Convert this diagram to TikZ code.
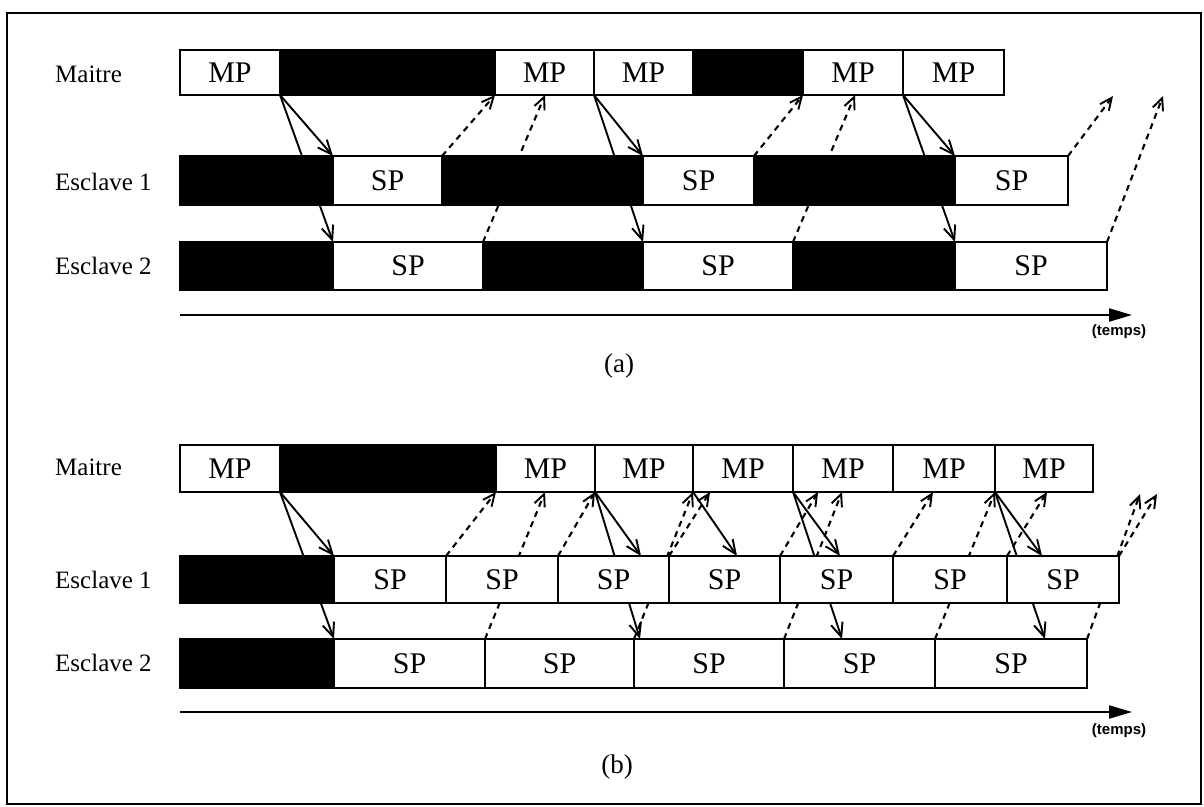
\documentclass[tikz,border=0pt]{standalone}
\usepackage{fontspec}
\setmainfont{Liberation Serif}
\newfontfamily\axisfont{Liberation Sans}
\usetikzlibrary{arrows.meta,calc}
\pgfdeclarelayer{bg}
\pgfsetlayers{bg,main}
\newcommand\cellbox[7]{\node[#1, minimum width={(#4-#3)*1pt}, minimum height={(#6-#5)*1pt}] (#2) at ({(#3+#4)/2},{(#5+#6)/2}) {#7};}
\begin{document}
\begin{tikzpicture}[x=1pt,y=-1pt,
  wbox/.style={draw, line width=2.2pt, fill=white, inner sep=0pt, outer sep=0pt, font=\fontsize{30}{30}\selectfont},
  bbox/.style={draw, line width=2.2pt, fill=black, inner sep=0pt, outer sep=0pt},
  lab/.style={anchor=west, inner sep=0pt, font=\fontsize{25}{25}\selectfont},
  sol/.style={line width=1.9pt, -{Straight Barb[length=14pt,width=12pt,line width=1.9pt]}},
  dsh/.style={line width=2.1pt, dash pattern=on 6pt off 5pt, -{Straight Barb[length=12pt,width=11pt,line width=1.9pt]}},
  axisline/.style={line width=2.2pt, -{Triangle[length=23pt,width=13pt]}},
  small/.style={inner sep=0pt, font=\axisfont\bfseries\fontsize{15}{15}\selectfont},
  captxt/.style={inner sep=0pt, font=\fontsize{27}{27}\selectfont},
]
\useasboundingbox (0,0) rectangle (1204,806);
\draw[line width=2pt] (7,13) rectangle (1201,804);

% ---------- (a) ----------
\node[lab] (la1) at (55,74) {Maitre};
\node[lab] (la2) at (55,182) {Esclave 1};
\node[lab] (la3) at (55,266) {Esclave 2};

\cellbox{wbox}{am1}{180}{280}{50}{95}{MP}
\cellbox{bbox}{am2}{280}{495}{50}{95}{}
\cellbox{wbox}{am3}{495}{594}{50}{95}{MP}
\cellbox{wbox}{am4}{594}{693}{50}{95}{MP}
\cellbox{bbox}{am5}{693}{803}{50}{95}{}
\cellbox{wbox}{am6}{803}{903}{50}{95}{MP}
\cellbox{wbox}{am7}{903}{1004}{50}{95}{MP}

\cellbox{bbox}{ae1a}{180}{333}{156}{205}{}
\cellbox{wbox}{ae1b}{333}{442}{156}{205}{SP}
\cellbox{bbox}{ae1c}{442}{643}{156}{205}{}
\cellbox{wbox}{ae1d}{643}{754}{156}{205}{SP}
\cellbox{bbox}{ae1e}{754}{955}{156}{205}{}
\cellbox{wbox}{ae1f}{955}{1068}{156}{205}{SP}

\cellbox{bbox}{ae2a}{180}{333}{242}{290}{}
\cellbox{wbox}{ae2b}{333}{483}{242}{290}{SP}
\cellbox{bbox}{ae2c}{483}{643}{242}{290}{}
\cellbox{wbox}{ae2d}{643}{793}{242}{290}{SP}
\cellbox{bbox}{ae2e}{793}{955}{242}{290}{}
\cellbox{wbox}{ae2f}{955}{1107}{242}{290}{SP}

\coordinate (pa1) at (545,95);
\coordinate (pa2) at (855,95);
\coordinate (pa3) at (1113,96);
\coordinate (pa4) at (1163,96);

\begin{pgfonlayer}{bg}
\draw[sol] (am1.south east) -- (ae1a.north east);
\draw[sol] (am1.south east) -- (ae2a.north east);
\draw[sol] (am3.south east) -- (ae1c.north east);
\draw[sol] (am3.south east) -- (ae2c.north east);
\draw[sol] (am6.south east) -- (ae1e.north east);
\draw[sol] (am6.south east) -- (ae2e.north east);
\draw[dsh] (ae1b.north east) -- (am3.south west);
\draw[dsh] (ae2b.north east) -- (pa1);
\draw[dsh] (ae1d.north east) -- (am6.south west);
\draw[dsh] (ae2d.north east) -- (pa2);
\draw[dsh] (ae1f.north east) -- (pa3);
\draw[dsh] (ae2f.north east) -- (pa4);
\end{pgfonlayer}

\coordinate (ta0) at (180,315);
\coordinate (ta1) at (1132,315);
\draw[axisline] (ta0) -- (ta1);
\node[small] (tla) at (1119,332) {(temps)};
\node[captxt] (capa) at (619,366) {(a)};

% ---------- (b) ----------
\node[lab] (lb1) at (55,467) {Maitre};
\node[lab] (lb2) at (55,580) {Esclave 1};
\node[lab] (lb3) at (55,663) {Esclave 2};

\cellbox{wbox}{bm1}{180}{280}{445}{492}{MP}
\cellbox{bbox}{bm2}{280}{496}{445}{492}{}
\cellbox{wbox}{bm3}{496}{595}{445}{492}{MP}
\cellbox{wbox}{bm4}{595}{693}{445}{492}{MP}
\cellbox{wbox}{bm5}{693}{793}{445}{492}{MP}
\cellbox{wbox}{bm6}{793}{893}{445}{492}{MP}
\cellbox{wbox}{bm7}{893}{995}{445}{492}{MP}
\cellbox{wbox}{bm8}{995}{1093}{445}{492}{MP}

\cellbox{bbox}{be1a}{180}{334}{556}{603}{}
\cellbox{wbox}{be1b}{334}{446}{556}{603}{SP}
\cellbox{wbox}{be1c}{446}{558}{556}{603}{SP}
\cellbox{wbox}{be1d}{558}{669}{556}{603}{SP}
\cellbox{wbox}{be1e}{669}{780}{556}{603}{SP}
\cellbox{wbox}{be1f}{780}{893}{556}{603}{SP}
\cellbox{wbox}{be1g}{893}{1007}{556}{603}{SP}
\cellbox{wbox}{be1h}{1007}{1119}{556}{603}{SP}

\cellbox{bbox}{be2a}{180}{334}{639}{688}{}
\cellbox{wbox}{be2b}{334}{485}{639}{688}{SP}
\cellbox{wbox}{be2c}{485}{634}{639}{688}{SP}
\cellbox{wbox}{be2d}{634}{784}{639}{688}{SP}
\cellbox{wbox}{be2e}{784}{935}{639}{688}{SP}
\cellbox{wbox}{be2f}{935}{1087}{639}{688}{SP}

\coordinate (qs1) at (641,556);
\coordinate (qs2) at (640,639);
\coordinate (qs3) at (737,556);
\coordinate (qs4) at (840,556);
\coordinate (qs5) at (842,639);
\coordinate (qs6) at (1042,556);
\coordinate (qs7) at (1045,639);
\coordinate (qd1) at (545,492);
\coordinate (qd2) at (710,492);
\coordinate (qd3) at (818,492);
\coordinate (qd4) at (842,492);
\coordinate (qd5) at (933,492);
\coordinate (qd6) at (1047,492);
\coordinate (qd7) at (1140,494);
\coordinate (qd8) at (1157,494);

\begin{pgfonlayer}{bg}
\draw[sol] (bm1.south east) -- (be1a.north east);
\draw[sol] (bm1.south east) -- (be2a.north east);
\draw[sol] (bm3.south east) -- (qs1);
\draw[sol] (bm3.south east) -- (qs2);
\draw[sol] (bm4.south east) -- (qs3);
\draw[sol] (bm5.south east) -- (qs4);
\draw[sol] (bm5.south east) -- (qs5);
\draw[sol] (bm7.south east) -- (qs6);
\draw[sol] (bm7.south east) -- (qs7);
\draw[dsh] (be1b.north east) -- (bm3.south west);
\draw[dsh] (be2b.north east) -- (qd1);
\draw[dsh] (be1c.north east) -- (bm4.south west);
\draw[dsh] (be2c.north east) -- (bm5.south west);
\draw[dsh] (be1d.north east) -- (qd2);
\draw[dsh] (be1e.north east) -- (qd3);
\draw[dsh] (be2d.north east) -- (qd4);
\draw[dsh] (be1f.north east) -- (qd5);
\draw[dsh] (be2e.north east) -- (bm8.south west);
\draw[dsh] (be1g.north east) -- (qd6);
\draw[dsh] (be2f.north east) -- (qd7);
\draw[dsh] (be1h.north east) -- (qd8);
\end{pgfonlayer}

\coordinate (tb0) at (180,712);
\coordinate (tb1) at (1132,712);
\draw[axisline] (tb0) -- (tb1);
\node[small] (tlb) at (1119,731) {(temps)};
\node[captxt] (capb) at (617,767) {(b)};
\end{tikzpicture}
\end{document}
